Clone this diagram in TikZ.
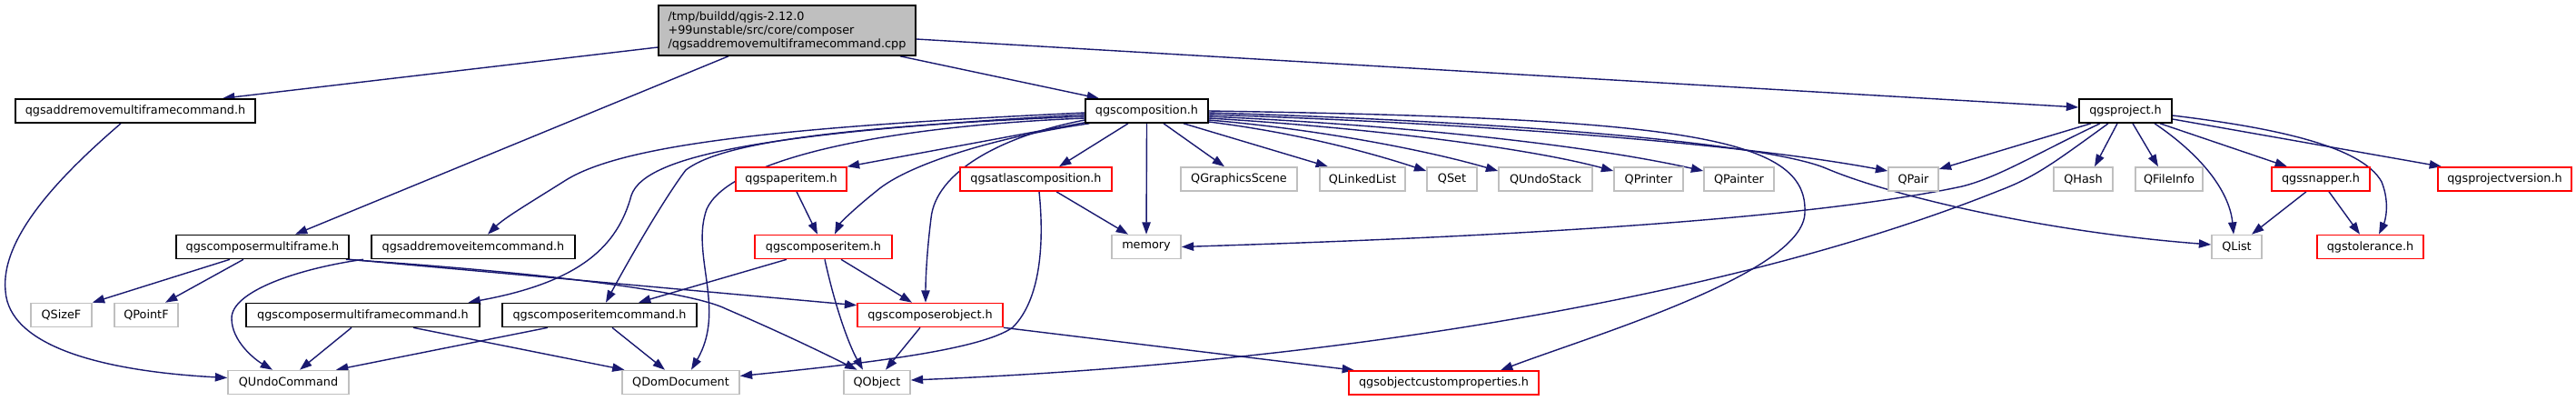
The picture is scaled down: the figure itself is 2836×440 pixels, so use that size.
\documentclass[tikz,border=0pt]{standalone}
\usepackage{fontspec}
\newfontfamily\dvs{DejaVu Sans}
\usetikzlibrary{arrows.meta,calc,backgrounds}
\definecolor{edgec}{HTML}{191970}
\definecolor{lgrey}{HTML}{BFBFBF}
\definecolor{dred}{HTML}{FF0000}
\begin{document}
\begin{tikzpicture}[x=0.75pt,y=-0.75pt,
  nd/.style={rectangle, inner sep=0pt, line width=1.2pt, fill=white,
    font=\dvs\fontsize{9.6}{11.25}\selectfont, minimum height=26*0.75pt},
  bbox/.style={nd, draw=black},
  rbox/.style={nd, draw=dred},
  gbox/.style={nd, draw=lgrey},
  w/.style={minimum width=#1*0.75pt},
  conn/.style={draw=edgec, line width=1.05pt, -{Triangle[length=10pt,width=7pt]}}
]
\useasboundingbox (0,0) rectangle (2836,440);
% nodes
\node[bbox, fill=lgrey, w=283, minimum height=55*0.75pt, align=left] (root) at (866.5,33.5)
  {/tmp/buildd/qgis-2.12.0\\+99unstable/src/core/composer\\/qgsaddremovemultiframecommand.cpp};
\node[bbox,w=264] (arm) at (149,122) {qgsaddremovemultiframecommand.h};
\node[bbox,w=135] (comp) at (1262.5,122) {qgscomposition.h};
\node[bbox,w=102] (proj) at (2340,122) {qgsproject.h};
\node[rbox,w=122] (paper) at (871,197) {qgspaperitem.h};
\node[rbox,w=167] (atlas) at (1140.5,197) {qgsatlascomposition.h};
\node[gbox,w=128] (gscene) at (1364,197) {QGraphicsScene};
\node[gbox,w=94] (llist) at (1500,197) {QLinkedList};
\node[gbox,w=55] (qset) at (1598.5,197) {QSet};
\node[gbox,w=103] (ustack) at (1701.5,197) {QUndoStack};
\node[gbox,w=76] (printer) at (1815,197) {QPrinter};
\node[gbox,w=77] (painter) at (1914.5,197) {QPainter};
\node[gbox,w=55] (pair) at (2106.5,197) {QPair};
\node[gbox,w=65] (hash) at (2293.5,197) {QHash};
\node[gbox,w=74] (finfo) at (2388,197) {QFileInfo};
\node[rbox,w=108] (snapper) at (2555,197) {qgssnapper.h};
\node[rbox,w=147] (pver) at (2757.5,197) {qgsprojectversion.h};
\node[bbox,w=190] (cmf) at (289,271.5) {qgscomposermultiframe.h};
\node[bbox,w=224] (aric) at (521,271.5) {qgsaddremoveitemcommand.h};
\node[rbox,w=151] (citem) at (906.5,271.5) {qgscomposeritem.h};
\node[gbox,w=76] (memory) at (1262,271.5) {memory};
\node[gbox,w=55] (qlist) at (2462.5,271.5) {QList};
\node[rbox,w=117] (tol) at (2609.5,271.5) {qgstolerance.h};
\node[gbox,w=67] (sizef) at (67.5,346.5) {QSizeF};
\node[gbox,w=70] (pointf) at (161,346.5) {QPointF};
\node[bbox,w=257] (cmfc) at (399.5,346.5) {qgscomposermultiframecommand.h};
\node[bbox,w=214] (cic) at (660,346.5) {qgscomposeritemcommand.h};
\node[rbox,w=160] (cobj) at (1024,346.5) {qgscomposerobject.h};
\node[gbox,w=133] (undo) at (317.5,420.5) {QUndoCommand};
\node[gbox,w=129] (dom) at (749.5,420.5) {QDomDocument};
\node[gbox,w=73] (qobj) at (965.5,420.5) {QObject};
\node[rbox,w=209] (ocp) at (1589.5,421) {qgsobjectcustomproperties.h};
% edges
\begin{pgfonlayer}{background}
\fill[white] (0,0) rectangle (2836,440);
\draw[conn] ($(root.west)+(0,18.5)$) -- ($(arm.north)+(96,0)$);
\draw[conn] ($(root.south)+(-64.5,0)$) -- ($(cmf.north)+(36,0)$);
\draw[conn] ($(root.south)+(124.5,0)$) -- ($(comp.north)+(-52.5,0)$);
\draw[conn] ($(root.east)+(0,9.5)$) -- ($(proj.west)+(0,-4)$);
\draw[conn] ($(arm.south)+(-16,0)$) .. controls (70,190) and (0,260) .. (6,320) .. controls (10,380) and (110,408) .. ($(undo.west)+(0,-5)$);
\draw[conn] ($(cmf.south)+(-36,0)$) -- (sizef.north east);
\draw[conn] ($(cmf.south)+(-21,0)$) -- ($(pointf.north)+(21,0)$);
\draw[conn] (cmf.south east) -- ($(cobj.north west)+(0,3)$);
\draw[conn] ($(cmf.south east)+(-4,0)$) .. controls (600,300) and (760,320) .. (800,340) .. controls (870,370) and (920,395) .. ($(qobj.north)+(-22,0)$);
\draw[conn] ($(aric.south)+(-121,0)$) .. controls (330,295) and (255,320) .. (255,350) .. controls (255,375) and (280,395) .. ($(undo.north)+(-17.5,0)$);
\draw[conn] ($(cmfc.south)+(-12.5,0)$) -- ($(undo.north)+(12.5,0)$);
\draw[conn] ($(cmfc.south)+(55.5,0)$) -- ($(dom.north)+(-62,0)$);
\draw[conn] ($(cic.south)+(-57,0)$) -- ($(undo.north)+(52.5,0)$);
\draw[conn] ($(cic.south)+(14,0)$) -- ($(dom.north)+(-17.5,0)$);
\draw[conn] ($(citem.south)+(-40.5,0)$) -- ($(cic.north)+(43,0)$);
\draw[conn] ($(citem.south)+(1.5,0)$) .. controls (920,340) and (935,380) .. ($(qobj.north)+(-15.5,0)$);
\draw[conn] ($(citem.south)+(19.5,0)$) -- ($(cobj.north)+(-20,0)$);
\draw[conn] ($(cobj.south)+(-11,0)$) -- ($(qobj.north)+(9.5,0)$);
\draw[conn] (cobj.south east) -- ($(ocp.north)+(-98.5,0)$);
\draw[conn] ($(paper.south)+(6,0)$) -- ($(citem.north)+(-6.5,0)$);
\draw[conn] ($(atlas.south)+(22.5,0)$) -- ($(memory.north)+(-20,0)$);
\draw[conn] ($(atlas.south)+(3.5,0)$) .. controls (1150,270) and (1145,330) .. (1115,360) .. controls (1080,385) and (950,400) .. ($(dom.east)+(0,-7)$);
\draw[conn] ($(comp.south west)+(0,-1)$) -- (paper.north east);
\draw[conn] ($(comp.south west)+(5,0)$) .. controls (1100,150) and (1000,180) .. (965,210) .. controls (940,230) and (925,245) .. ($(citem.north)+(12.5,0)$);
\draw[conn] ($(comp.west)+(0,10)$) .. controls (1100,150) and (1030,190) .. (1025,240) .. controls (1020,280) and (1019,310) .. ($(cobj.north)+(-5,0)$);
\draw[conn] ($(comp.south)+(-20.5,0)$) -- ($(atlas.north)+(25.5,0)$);
\draw[conn] (comp.south) -- (memory.north);
\draw[conn] ($(comp.south)+(18.5,0)$) -- ($(gscene.north)+(-16,0)$);
\draw[conn] ($(comp.south)+(40.5,0)$) -- ($(llist.north)+(-38,0)$);
\draw[conn] ($(comp.east)+(0,12)$) .. controls (1420,145) and (1500,165) .. ($(qset.west)+(0,-9)$);
\draw[conn] ($(comp.east)+(0,10)$) .. controls (1450,142) and (1570,165) .. ($(ustack.west)+(0,-9)$);
\draw[conn] ($(comp.east)+(0,8)$) .. controls (1500,140) and (1680,162) .. ($(printer.west)+(0,-9)$);
\draw[conn] ($(comp.east)+(0,6)$) .. controls (1550,138) and (1750,160) .. ($(painter.west)+(0,-9)$);
\draw[conn] ($(comp.east)+(0,4)$) .. controls (1600,135) and (1900,155) .. ($(pair.west)+(0,-9)$);
\draw[conn] ($(comp.east)+(0,2)$) .. controls (1700,135) and (1950,160) .. (2010,185) .. controls (2080,215) and (2250,255) .. ($(qlist.west)+(0,-2.5)$);
\draw[conn] (comp.east) .. controls (1850,130) and (1990,150) .. (1987,233) .. controls (1988,300) and (1750,370) .. ($(ocp.north)+(62.5,0)$);
\draw[conn] ($(comp.west)+(0,2)$) .. controls (850,140) and (680,160) .. (620,200) .. controls (580,225) and (555,240) .. ($(aric.north)+(16,0)$);
\draw[conn] ($(comp.west)+(0,4)$) .. controls (850,145) and (710,170) .. (695,215) .. controls (680,270) and (640,310) .. ($(cmfc.north)+(116,0)$);
\draw[conn] ($(comp.west)+(0,6)$) .. controls (900,140) and (790,160) .. (755,187) .. controls (730,220) and (690,290) .. ($(cic.north)+(7,0)$);
\draw[conn] ($(comp.west)+(0,8)$) .. controls (950,140) and (800,180) .. (778,230) .. controls (760,280) and (800,340) .. ($(dom.north)+(11.5,0)$);
\draw[conn] ($(proj.south)+(-38,0)$) -- ($(pair.east)+(0,-11)$);
\draw[conn] ($(proj.south)+(-28,0)$) .. controls (2240,170) and (2200,195) .. (2160,205) .. controls (1950,250) and (1500,265) .. (memory.east);
\draw[conn] ($(proj.south)+(-19,0)$) .. controls (2260,180) and (2240,195) .. (2200,210) .. controls (1900,330) and (1450,400) .. ($(qobj.east)+(0,-2.5)$);
\draw[conn] ($(proj.south)+(-9,0)$) -- ($(hash.north)+(12.5,0)$);
\draw[conn] ($(proj.south)+(8,0)$) -- ($(finfo.north)+(-12,0)$);
\draw[conn] ($(proj.south)+(32,0)$) .. controls (2430,175) and (2455,215) .. ($(qlist.north)+(-3.5,0)$);
\draw[conn] ($(proj.south)+(38,0)$) -- ($(snapper.north)+(-37,0)$);
\draw[conn] ($(proj.east)+(0,9)$) -- ($(pver.north)+(-69.5,0)$);
\draw[conn] ($(proj.east)+(0,5)$) .. controls (2500,140) and (2600,160) .. (2622,200) .. controls (2632,225) and (2625,245) .. ($(tol.north)+(9.5,0)$);
\draw[conn] ($(snapper.south)+(-16,0)$) -- ($(qlist.north)+(16.5,0)$);
\draw[conn] ($(snapper.south)+(9,0)$) -- ($(tol.north)+(-11.5,0)$);
\end{pgfonlayer}
\end{tikzpicture}
\end{document}
